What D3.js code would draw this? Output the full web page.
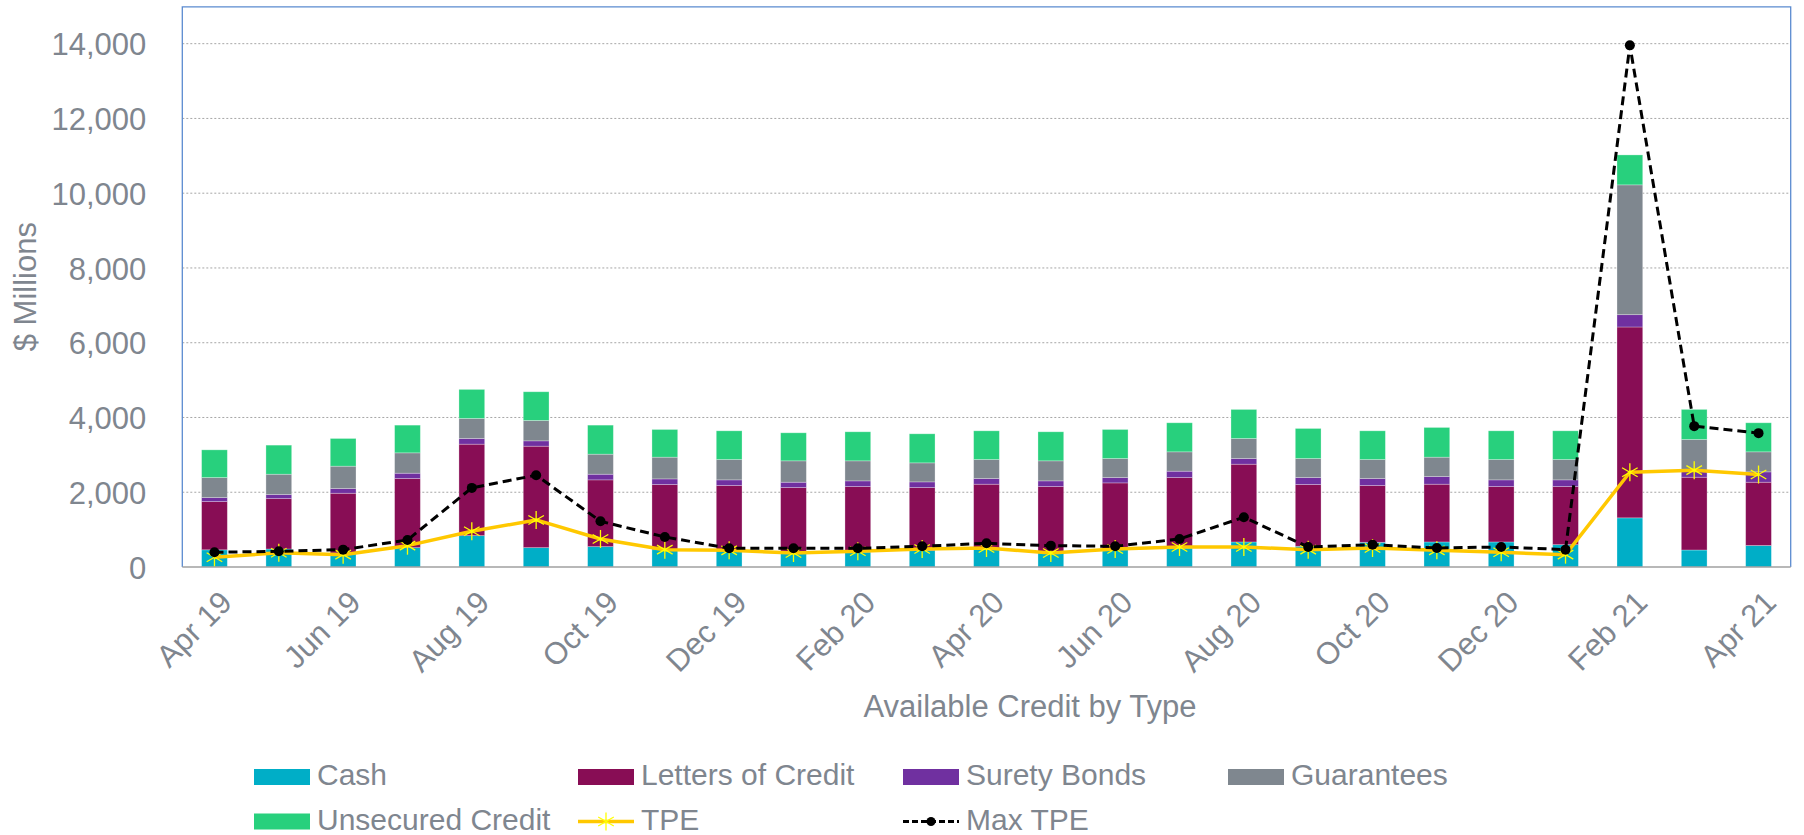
<!DOCTYPE html>
<html>
<head>
<meta charset="utf-8">
<script src="https://cdn.jsdelivr.net/npm/d3@7"></script>
<style>
  body { margin: 0; background: #fff; }
  svg { display: block; font-family: "Liberation Sans", Arial, sans-serif; }
</style>
</head>
<body>
<script>
// Monthly values, $ millions
const months = ["Apr 19","May 19","Jun 19","Jul 19","Aug 19","Sep 19","Oct 19","Nov 19","Dec 19",
                "Jan 20","Feb 20","Mar 20","Apr 20","May 20","Jun 20","Jul 20","Aug 20","Sep 20",
                "Oct 20","Nov 20","Dec 20","Jan 21","Feb 21","Mar 21","Apr 21"];
const tickLabels = ["Apr 19","Jun 19","Aug 19","Oct 19","Dec 19","Feb 20","Apr 20","Jun 20",
                    "Aug 20","Oct 20","Dec 20","Feb 21","Apr 21"];
const yTicks = [0, 2000, 4000, 6000, 8000, 10000, 12000, 14000];

const cash       = [460,482,375,518,839,518,545,464,446,402,400,446,509,402,464,509,670,554,661,670,670,598,1315,455,575];
const letters    = [1290,1348,1598,1848,2447,2714,1786,1742,1733,1723,1752,1679,1706,1750,1786,1884,2080,1652,1518,1545,1482,1554,5106,1947,1693];
const surety     = [107,108,125,143,152,143,151,151,152,143,152,152,151,152,143,170,152,187,187,205,179,179,330,150,277];
const guarantees = [536,544,599,545,536,545,536,581,544,572,536,509,509,536,509,518,536,509,509,518,544,544,3472,860,536];
const unsecured  = [741,778,741,741,777,768,777,741,768,750,777,777,768,777,777,777,777,804,768,795,768,768,801,804,777];
const tpe        = [260,380,330,571,955,1259,750,464,446,375,420,482,509,375,482,536,536,464,509,446,393,330,2536,2590,2474];
const maxTpe     = [393,420,464,723,2116,2456,1223,804,500,500,500,554,634,571,554,750,1331,536,598,509,536,464,13955,3768,3581];

const seriesNames = ["Cash", "Letters of Credit", "Surety Bonds", "Guarantees", "Unsecured Credit"];
const seriesColors = ["#00AEC7", "#880D55", "#7030A0", "#7F878F", "#28D07D"];
const textColor = "#7f868f";

const W = 1804, H = 835;
const plot = { left: 182.3, right: 1790.7, top: 6.3, bottom: 567 };

const rows = months.map((m, i) => ({
    month: m,
    "Cash": cash[i],
    "Letters of Credit": letters[i],
    "Surety Bonds": surety[i],
    "Guarantees": guarantees[i],
    "Unsecured Credit": unsecured[i]
}));

const svg = d3.select("body").append("svg")
    .attr("width", W)
    .attr("height", H);

const x = d3.scaleBand()
    .domain(months)
    .range([plot.left, plot.right])
    .paddingInner(0.6)
    .paddingOuter(0.3);

const y = d3.scaleLinear()
    .domain([0, 15000])
    .range([plot.bottom, plot.top]);

const cx = m => x(m) + x.bandwidth() / 2;

// Gridlines
svg.append("g")
   .selectAll("line")
   .data(yTicks.filter(d => d > 0))
   .join("line")
   .attr("x1", plot.left)
   .attr("x2", plot.right)
   .attr("y1", d => y(d))
   .attr("y2", d => y(d))
   .attr("stroke", "#a6a6a6")
   .attr("stroke-width", 1)
   .attr("stroke-dasharray", "2,2");

// Y axis labels
const yAxis = svg.append("g")
    .attr("transform", `translate(${plot.left - 36},0)`)
    .call(d3.axisLeft(y).tickValues(yTicks).tickSize(0).tickFormat(d3.format(",")));
yAxis.select(".domain").remove();
yAxis.selectAll("text")
     .attr("fill", textColor)
     .attr("font-size", 31)
     .attr("x", 0)
     .attr("dy", "0.36em")
     .style("font-family", "Liberation Sans, Arial, sans-serif");

// Stacked bars
const stacked = d3.stack().keys(seriesNames)(rows);
svg.append("g")
   .selectAll("g")
   .data(stacked)
   .join("g")
   .attr("fill", (d, i) => seriesColors[i])
   .selectAll("rect")
   .data(d => d)
   .join("rect")
   .attr("x", d => x(d.data.month))
   .attr("width", x.bandwidth())
   .attr("y", d => y(d[1]))
   .attr("height", d => y(d[0]) - y(d[1]))
   .attr("stroke", "#ffffff")
   .attr("stroke-opacity", 0.35)
   .attr("stroke-width", 0.8);

// Frame: blue border on left, top, right; gray baseline
svg.append("path")
   .attr("d", `M${plot.left},${plot.bottom}V${plot.top + 0.5}H${plot.right}V${plot.bottom}`)
   .attr("fill", "none")
   .attr("stroke", "#5b8bd0")
   .attr("stroke-width", 1.3);
svg.append("line")
   .attr("x1", plot.left)
   .attr("x2", plot.right)
   .attr("y1", y(0))
   .attr("y2", y(0))
   .attr("stroke", "#a0a0a0")
   .attr("stroke-width", 1.5);

// TPE line
const line = d3.line().x(d => cx(d.m)).y(d => y(d.v));
const tpePts = months.map((m, i) => ({ m, v: tpe[i] }));
const maxPts = months.map((m, i) => ({ m, v: maxTpe[i] }));

svg.append("path")
   .datum(tpePts)
   .attr("d", line)
   .attr("fill", "none")
   .attr("stroke", "#FFC800")
   .attr("stroke-width", 3.5)
   .attr("stroke-linejoin", "round");

function star(g, r) {
    const a = Math.PI / 6;
    const spokes = [[0, -r, 0, r],
                    [-r * Math.cos(a), -r * Math.sin(a), r * Math.cos(a), r * Math.sin(a)],
                    [-r * Math.cos(a), r * Math.sin(a), r * Math.cos(a), -r * Math.sin(a)]];
    g.selectAll("line")
     .data(spokes)
     .join("line")
     .attr("x1", d => d[0]).attr("y1", d => d[1])
     .attr("x2", d => d[2]).attr("y2", d => d[3])
     .attr("stroke", "#FFFF00")
     .attr("stroke-width", 1.3);
}

svg.append("g")
   .selectAll("g")
   .data(tpePts)
   .join("g")
   .attr("transform", d => `translate(${cx(d.m)},${y(d.v)})`)
   .each(function () { star(d3.select(this), 9); });

// Max TPE line
svg.append("path")
   .datum(maxPts)
   .attr("d", line)
   .attr("fill", "none")
   .attr("stroke", "#000")
   .attr("stroke-width", 3)
   .attr("stroke-dasharray", "9,5");

svg.append("g")
   .selectAll("circle")
   .data(maxPts)
   .join("circle")
   .attr("cx", d => cx(d.m))
   .attr("cy", d => y(d.v))
   .attr("r", 5)
   .attr("fill", "#000");

// X tick labels, every other month, rotated
svg.append("g")
   .selectAll("text")
   .data(tickLabels)
   .join("text")
   .attr("transform", d => `translate(${cx(d) + 4},${plot.bottom + 22}) rotate(-45)`)
   .attr("text-anchor", "end")
   .attr("dy", "0.7em")
   .attr("font-size", 31)
   .attr("fill", textColor)
   .text(d => d);

// Axis titles
svg.append("text")
   .attr("x", 1030)
   .attr("y", 717)
   .attr("text-anchor", "middle")
   .attr("font-size", 31)
   .attr("fill", textColor)
   .text("Available Credit by Type");

svg.append("text")
   .attr("transform", `translate(36,${(plot.top + plot.bottom) / 2}) rotate(-90)`)
   .attr("text-anchor", "middle")
   .attr("font-size", 31)
   .attr("fill", textColor)
   .text("$ Millions");

// Legend
const legendItems = [
    { name: "Cash", type: "rect", color: seriesColors[0] },
    { name: "Letters of Credit", type: "rect", color: seriesColors[1] },
    { name: "Surety Bonds", type: "rect", color: seriesColors[2] },
    { name: "Guarantees", type: "rect", color: seriesColors[3] },
    { name: "Unsecured Credit", type: "rect", color: seriesColors[4] },
    { name: "TPE", type: "tpe" },
    { name: "Max TPE", type: "max" }
];
const legendX = [254, 578, 903, 1228];
const legendY = [777, 821.5];

const leg = svg.append("g")
   .selectAll("g")
   .data(legendItems)
   .join("g")
   .attr("transform", (d, i) => `translate(${legendX[i % 4]},${legendY[Math.floor(i / 4)]})`);

leg.each(function (d) {
    const g = d3.select(this);
    if (d.type === "rect") {
        g.append("rect")
         .attr("x", 0).attr("y", -8)
         .attr("width", 56).attr("height", 16)
         .attr("fill", d.color);
    } else if (d.type === "tpe") {
        g.append("line")
         .attr("x1", 0).attr("x2", 56).attr("y1", 0).attr("y2", 0)
         .attr("stroke", "#FFC800").attr("stroke-width", 3.5);
        star(g.append("g").attr("transform", "translate(28,0)"), 9);
    } else {
        g.append("line")
         .attr("x1", 0).attr("x2", 56).attr("y1", 0).attr("y2", 0)
         .attr("stroke", "#000").attr("stroke-width", 3)
         .attr("stroke-dasharray", "6,3");
        g.append("circle")
         .attr("cx", 28).attr("cy", 0).attr("r", 4.5)
         .attr("fill", "#000");
    }
    g.append("text")
     .attr("x", 63)
     .attr("y", 8)
     .attr("font-size", 30)
     .attr("fill", textColor)
     .text(d.name);
});
</script>
</body>
</html>
